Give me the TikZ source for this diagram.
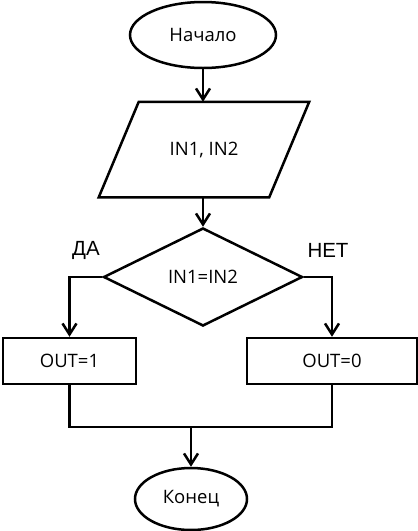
\documentclass[tikz,border=0pt]{standalone}
\usepackage{fontspec}
\setmainfont{Open Sans}
\newfontfamily\arialf{Liberation Sans}
\usetikzlibrary{shapes.geometric,arrows.meta}
\tikzset{
  base/.style={draw=black, line width=2.5pt, inner sep=0pt, font=\fontsize{18.5}{22}\selectfont},
  term/.style={base, ellipse},
  iobox/.style={base, draw=none, rectangle},
  cond/.style={base, diamond},
  proc/.style={base, rectangle},
  lbl/.style={font=\arialf\fontsize{20.5}{24}\selectfont},
  conn/.style={line width=2.5pt},
  arr/.style={conn, -{Straight Barb[length=11pt,width=14pt,line width=2.5pt]}}
}
\begin{document}
\begin{tikzpicture}[x=1pt,y=1pt]
\useasboundingbox (0,0) rectangle (418,-531);
\node[term, minimum width=146, minimum height=66] (start) at (203,-35) {Начало};
\node[iobox, minimum width=168, minimum height=93] (in) at (204,-149.5) {IN1, IN2};
\draw[conn, line join=miter] ([xshift=-20pt]in.south west) -- ([xshift=20pt]in.north west)
  -- ([xshift=20pt]in.north east) -- ([xshift=-20pt]in.south east) -- cycle;
\node[cond, minimum width=199, minimum height=98] (dec) at (203,-277) {IN1=IN2};
\node[proc, minimum width=133, minimum height=46] (b1) at (69.5,-361) {OUT=1};
\node[proc, minimum width=170, minimum height=46] (b0) at (332,-361) {OUT=0};
\node[term, minimum width=112, minimum height=62] (end) at (191,-499) {Конец};
\node[lbl] (da) at (86,-250) {ДА};
\node[lbl] (net) at (328,-250) {НЕТ};
\coordinate (j) at (191,-427);
\draw[arr] (start) -- (start.south |- in.north);
\draw[arr] (in.south -| dec.north) -- (dec.north);
\draw[arr] (dec.west) -| (b1.north);
\draw[arr] (dec.east) -| (b0.north);
\draw[conn] (b1.south) |- (j);
\draw[conn] (b0.south) |- (j);
\draw[arr] (j) -- (end.north);
\end{tikzpicture}
\end{document}
